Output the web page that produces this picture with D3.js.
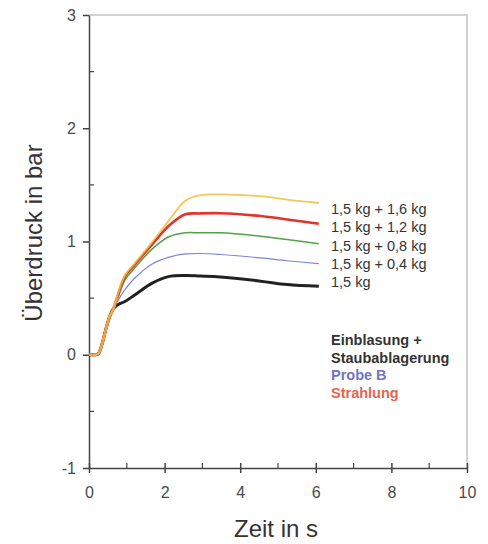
<!DOCTYPE html>
<html>
<head>
<meta charset="utf-8">
<script src="https://cdn.jsdelivr.net/npm/d3@7"></script>
<style>
  body { margin: 0; background: #fff; }
  svg text { font-family: "Liberation Sans", Arial, sans-serif; }
</style>
</head>
<body>
<div id="chart"></div>
<script>
// measured time points (s), shared by all curves
const times = [0, 0.15, 0.25, 0.35, 0.45, 0.55, 0.65, 0.75, 0.95, 1.22, 1.66, 2.1, 2.55, 2.94, 3.47, 4.54, 5.24, 6.08];
const startP = [0, 0, 0.01, 0.1, 0.23, 0.34, 0.41];

// overpressure in bar after the common start
const p15 = [0.44, 0.47, 0.53, 0.63, 0.69, 0.70, 0.695, 0.687, 0.65, 0.62, 0.605];
const p04 = [0.47, 0.575, 0.68, 0.80, 0.86, 0.89, 0.894, 0.885, 0.855, 0.83, 0.805];
const p08 = [0.49, 0.66, 0.77, 0.93, 1.04, 1.077, 1.077, 1.077, 1.047, 1.018, 0.98];
const p12 = [0.51, 0.69, 0.80, 0.97, 1.135, 1.24, 1.248, 1.25, 1.225, 1.195, 1.157];
const p16 = [0.52, 0.70, 0.81, 0.99, 1.18, 1.36, 1.41, 1.416, 1.40, 1.37, 1.34];

const seriesLabels = ["1,5 kg + 1,6 kg", "1,5 kg + 1,2 kg", "1,5 kg + 0,8 kg", "1,5 kg + 0,4 kg", "1,5 kg"];
const noteLines = ["Einblasung +", "Staubablagerung", "Probe B", "Strahlung"];
const xTicks = [0, 2, 4, 6, 8, 10];
const yTicks = [-1, 0, 1, 2, 3];

const width = 488, height = 544;
const mLeft = 89, mRight = 467, mTop = 15, mBottom = 468;

const svg = d3.select("#chart").append("svg")
    .attr("width", width)
    .attr("height", height);

const x = d3.scaleLinear().domain([0, 10]).range([mLeft, mRight]);
const y = d3.scaleLinear().domain([-1, 3]).range([mBottom, mTop]);

// light frame on top and right
svg.append("path")
    .attr("d", `M${mLeft},${mTop}H${mRight}V${mBottom}`)
    .attr("fill", "none")
    .attr("stroke", "#c4c4c4")
    .attr("stroke-width", 1.5);

// minor ticks (inward)
const minorX = d3.range(1, 10, 2);
const minorY = [-0.5, 0.5, 1.5, 2.5];
svg.selectAll(".mx").data(minorX).join("line")
    .attr("x1", d => x(d)).attr("x2", d => x(d))
    .attr("y1", mBottom).attr("y2", mBottom - 5)
    .attr("stroke", "#444").attr("stroke-width", 1.2);
svg.selectAll(".my").data(minorY).join("line")
    .attr("x1", mLeft).attr("x2", mLeft + 5)
    .attr("y1", d => y(d)).attr("y2", d => y(d))
    .attr("stroke", "#444").attr("stroke-width", 1.2);

const fmt = d => String(d);
const xAxis = svg.append("g")
    .attr("transform", `translate(0,${mBottom})`)
    .call(d3.axisBottom(x).tickValues(xTicks).tickFormat(fmt).tickSize(5).tickSizeOuter(0).tickPadding(14));
const yAxis = svg.append("g")
    .attr("transform", `translate(${mLeft},0)`)
    .call(d3.axisLeft(y).tickValues(yTicks).tickFormat(fmt).tickSize(6).tickSizeOuter(0).tickPadding(7));

[xAxis, yAxis].forEach(a => {
    a.select(".domain").attr("stroke", "#444").attr("stroke-width", 1.5);
    a.selectAll(".tick line").attr("stroke", "#444").attr("stroke-width", 1.5);
    a.selectAll(".tick text").attr("fill", "#4a4a4a").attr("font-size", 16);
});
// x major ticks cross the axis
xAxis.selectAll(".tick line").attr("y1", -5).attr("y2", 5);

// axis titles
svg.append("text")
    .attr("x", 276).attr("y", 537)
    .attr("text-anchor", "middle")
    .attr("font-size", 24)
    .attr("fill", "#333")
    .text("Zeit in s");
svg.append("text")
    .attr("transform", "translate(42,233) rotate(-90)")
    .attr("text-anchor", "middle")
    .attr("font-size", 24)
    .attr("fill", "#333")
    .text("Überdruck in bar");

// curves
const series = [
    { vals: p15, color: "#222222", w: 3 },
    { vals: p04, color: "#7b86d6", w: 1.2 },
    { vals: p08, color: "#4fa545", w: 1.5 },
    { vals: p12, color: "#e2332c", w: 2.6 },
    { vals: p16, color: "#f0bf3a", w: 1.8, op: 0.85 }
];

const line = d3.line()
    .x(d => x(d[0]))
    .y(d => y(d[1]))
    .curve(d3.curveCatmullRom.alpha(0.5));

series.forEach(s => {
    const pts = times.map((t, i) => [t, i < startP.length ? startP[i] : s.vals[i - startP.length]]);
    svg.append("path")
        .datum(pts)
        .attr("d", line)
        .attr("fill", "none")
        .attr("stroke", s.color)
        .attr("stroke-width", s.w)
        .attr("stroke-opacity", s.op || 1)
        .attr("stroke-linejoin", "round");
});

// orange common start
svg.append("path")
    .datum(times.slice(0, 8).map((t, i) => [t, i < startP.length ? startP[i] : p16[0]]))
    .attr("d", line)
    .attr("fill", "none")
    .attr("stroke", "#f2a448")
    .attr("stroke-width", 2.6);

// labels at the curve ends
svg.selectAll(".lbl").data(seriesLabels).join("text")
    .attr("x", 331)
    .attr("y", (d, i) => 214 + i * 18.3)
    .attr("font-size", 14.5)
    .attr("fill", "#333")
    .text(d => d);

const noteColors = ["#333", "#333", "#6f74c4", "#e4654c"];
svg.selectAll(".note").data(noteLines).join("text")
    .attr("x", 331)
    .attr("y", (d, i) => 345 + i * 17.7)
    .attr("font-size", 14.5)
    .attr("font-weight", "bold")
    .attr("fill", (d, i) => noteColors[i])
    .text(d => d);
</script>
</body>
</html>
